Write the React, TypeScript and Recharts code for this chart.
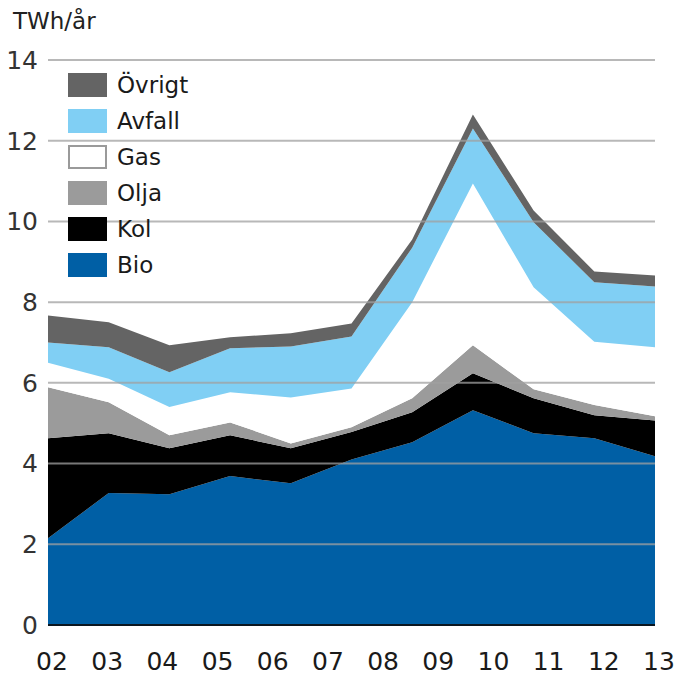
import { AreaChart, Area, XAxis, YAxis, ReferenceLine, Legend } from "recharts";

// year labels shown under the plot (12 labels, 11 data points in the source)
const yearLabels = ["02", "03", "04", "05", "06", "07", "08", "09", "10", "11", "12", "13"];
const pointIndex = [0, 1, 2, 3, 4, 5, 6, 7, 8, 9, 10];

// TWh/år per fuel
const bio = [2.15, 3.27, 3.24, 3.69, 3.51, 4.1, 4.53, 5.32, 4.75, 4.63, 4.18];
const kol = [2.48, 1.48, 1.14, 1.01, 0.87, 0.68, 0.74, 0.92, 0.87, 0.57, 0.89];
const olja = [1.26, 0.77, 0.32, 0.32, 0.12, 0.12, 0.35, 0.69, 0.22, 0.25, 0.1];
const gas = [0.61, 0.58, 0.7, 0.75, 1.14, 0.96, 2.38, 4.01, 2.53, 1.57, 1.71];
const avfall = [0.5, 0.78, 0.86, 1.09, 1.26, 1.29, 1.35, 1.36, 1.61, 1.47, 1.51];
const ovrigt = [0.67, 0.62, 0.67, 0.27, 0.33, 0.32, 0.2, 0.35, 0.29, 0.27, 0.27];

const legendOrder = ["Övrigt", "Avfall", "Gas", "Olja", "Kol", "Bio"];
const yTicks = [0, 2, 4, 6, 8, 10, 12, 14];
const gridValues = [2, 4, 6, 8, 10, 12, 14];

const colors: Record<string, string> = {
  Bio: "#005fa5",
  Kol: "#000000",
  Olja: "#9b9b9b",
  Gas: "#ffffff",
  Avfall: "#80cff4",
  "Övrigt": "#646464",
};

const data = pointIndex.map((i, k) => ({
  i,
  Bio: bio[k],
  Kol: kol[k],
  Olja: olja[k],
  Gas: gas[k],
  Avfall: avfall[k],
  "Övrigt": ovrigt[k],
}));

// the 12 year labels are spread evenly over the 11 data points
const lastIndex = pointIndex[pointIndex.length - 1];
const labelStep = lastIndex / (yearLabels.length - 1);
const xTicks = yearLabels.map((_, k) => k * labelStep);

const FONT = "'DejaVu Sans', sans-serif";

const renderLegend = (props: any) => {
  const byName: Record<string, any> = {};
  (props.payload || []).forEach((it: any) => (byName[it.value] = it));
  const items = legendOrder.filter((n) => byName[n]);
  return (
    <div style={{ fontFamily: FONT }}>
      {items.map((name) => (
        <div key={name} style={{ display: "flex", alignItems: "center", height: 24, marginBottom: 12 }}>
          <div
            style={{
              width: 39,
              height: 24,
              boxSizing: "border-box",
              background: colors[name],
              border: name === "Gas" ? "2px solid #9a9a9a" : "none",
              marginRight: 10,
            }}
          />
          <span style={{ fontSize: 23, color: "#1a1a1a" }}>{name}</span>
        </div>
      ))}
    </div>
  );
};

const App = () => {
  return (
    <div style={{ position: "absolute", left: 0, top: 0, width: 675, height: 677, background: "#fff" }}>
      <div
        style={{
          position: "absolute",
          left: 13,
          top: 8,
          fontFamily: FONT,
          fontSize: 23,
          color: "#222",
        }}
      >
        TWh/år
      </div>
      <AreaChart width={675} height={677} data={data} margin={{ top: 60, right: 20, bottom: 0, left: 0 }}>
        <XAxis
          type="number"
          dataKey="i"
          domain={[0, lastIndex]}
          ticks={xTicks}
          interval={0}
          tickFormatter={(v: number) => yearLabels[Math.round(v / labelStep)]}
          height={52}
          tickSize={0}
          tickMargin={27}
          axisLine={{ stroke: "#0b1620", strokeWidth: 2 }}
          tick={{ fontFamily: FONT, fontSize: 25, fill: "#1a1a1a", dx: 4 }}
        />
        <YAxis
          type="number"
          domain={[0, 14]}
          ticks={yTicks}
          width={48}
          axisLine={false}
          tickSize={0}
          tickMargin={10}
          tick={{ fontFamily: FONT, fontSize: 25, fill: "#333" }}
        />
        <Area type="linear" dataKey="Bio" stackId="1" fill={colors.Bio} fillOpacity={1} stroke="none" isAnimationActive={false} />
        <Area type="linear" dataKey="Kol" stackId="1" fill={colors.Kol} fillOpacity={1} stroke="none" isAnimationActive={false} />
        <Area type="linear" dataKey="Olja" stackId="1" fill={colors.Olja} fillOpacity={1} stroke="none" isAnimationActive={false} />
        <Area type="linear" dataKey="Gas" stackId="1" fill={colors.Gas} fillOpacity={1} stroke="none" isAnimationActive={false} />
        <Area type="linear" dataKey="Avfall" stackId="1" fill={colors.Avfall} fillOpacity={1} stroke="none" isAnimationActive={false} />
        <Area type="linear" dataKey="Övrigt" stackId="1" fill={colors["Övrigt"]} fillOpacity={1} stroke="none" isAnimationActive={false} />
        {gridValues.map((v) => (
          <ReferenceLine key={v} y={v} stroke="#a0a0a0" strokeOpacity={0.75} strokeWidth={2} />
        ))}
        <Legend
          content={renderLegend}
          layout="vertical"
          align="center"
          verticalAlign="middle"
          wrapperStyle={{ position: "absolute", left: 68, top: 73, width: 200 }}
        />
      </AreaChart>
    </div>
  );
};

export default App;
